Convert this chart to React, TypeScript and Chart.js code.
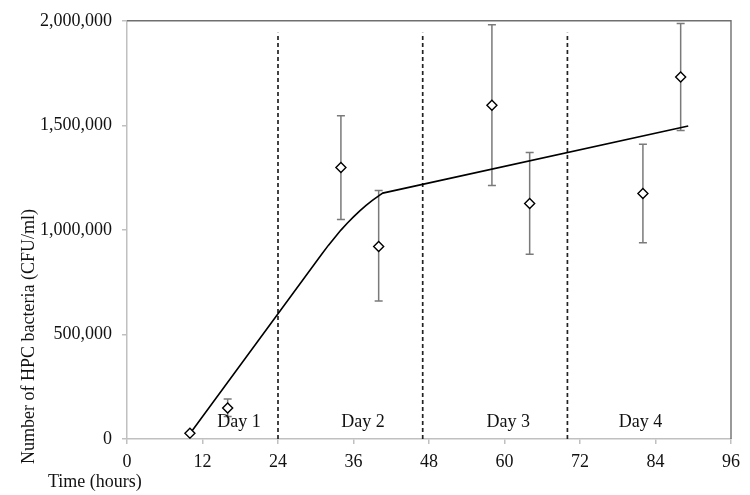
import React, { useEffect, useRef } from 'react';
import { Chart, registerables } from 'chart.js';

Chart.register(...registerables);

// Sample points (hours) with mean HPC counts and error-bar limits
const sampleHours = [10, 16, 34, 40, 58, 64, 82, 88];
const hpcMean = [28000, 148000, 1298000, 921000, 1596000, 1126000, 1174000, 1731000];
const hpcLow = [28000, 108000, 1050000, 660000, 1212000, 883000, 939000, 1475000];
const hpcHigh = [28000, 191000, 1546000, 1188000, 1981000, 1370000, 1410000, 1987000];

// Fitted growth curve
const fitHours = [10, 31, 32, 33, 34, 35, 36, 37, 38, 39, 40, 40.65, 89.2];
const fitValues = [25000, 886000, 926000, 963000, 999000, 1032000, 1062000, 1091000, 1117000, 1141000, 1163000, 1176000, 1497000];

// Day boundaries and labels
const dayBoundaryHours = [24, 47, 70];
const dayBoundaryTop = 1943000;
const dayLabels = ['Day 1', 'Day 2', 'Day 3', 'Day 4'];
const dayLabelHours = [17.8, 37.5, 60.6, 81.6];
const dayLabelValue = 57000;

const xTickValues = [0, 12, 24, 36, 48, 60, 72, 84, 96];
const yTickValues = [0, 500000, 1000000, 1500000, 2000000];

const xTitle = 'Time (hours)';
const yTitle = 'Number of HPC bacteria (CFU/ml)';

const FONT = '"Liberation Serif", "Times New Roman", serif';

const extrasPlugin = {
  id: 'extras',
  beforeDatasetsDraw(chart: any) {
    const { ctx, scales } = chart;
    const xs = scales.x;
    const ys = scales.y;
    ctx.save();
    ctx.strokeStyle = '#7a7a7a';
    ctx.lineWidth = 1.5;
    for (let i = 0; i < sampleHours.length; i++) {
      const px = xs.getPixelForValue(sampleHours[i]);
      const pLo = ys.getPixelForValue(hpcLow[i]);
      const pHi = ys.getPixelForValue(hpcHigh[i]);
      if (Math.abs(pLo - pHi) < 1) continue;
      ctx.beginPath();
      ctx.moveTo(px, pLo);
      ctx.lineTo(px, pHi);
      ctx.moveTo(px - 4, pLo);
      ctx.lineTo(px + 4, pLo);
      ctx.moveTo(px - 4, pHi);
      ctx.lineTo(px + 4, pHi);
      ctx.stroke();
    }
    ctx.restore();
  },
  afterDatasetsDraw(chart: any) {
    const { ctx, scales, chartArea } = chart;
    const xs = scales.x;
    const ys = scales.y;
    ctx.save();
    // frame top and right
    ctx.strokeStyle = '#6f6f6f';
    ctx.lineWidth = 1.4;
    ctx.beginPath();
    ctx.moveTo(chartArea.left, chartArea.top);
    ctx.lineTo(chartArea.right, chartArea.top);
    ctx.lineTo(chartArea.right, chartArea.bottom);
    ctx.stroke();
    // day labels
    ctx.fillStyle = '#111';
    ctx.font = `18px ${FONT}`;
    ctx.textAlign = 'center';
    ctx.textBaseline = 'alphabetic';
    for (let i = 0; i < dayLabels.length; i++) {
      ctx.fillText(dayLabels[i], xs.getPixelForValue(dayLabelHours[i]), ys.getPixelForValue(dayLabelValue));
    }
    // axis titles
    ctx.textAlign = 'left';
    ctx.fillText(xTitle, 48, 487);
    ctx.translate(34, 336.5);
    ctx.rotate(-Math.PI / 2);
    ctx.textAlign = 'center';
    ctx.fillText(yTitle, 0, 0);
    ctx.restore();
  },
};

export default function App() {
  const canvasRef = useRef<HTMLCanvasElement | null>(null);

  useEffect(() => {
    if (!canvasRef.current) return;
    const points = sampleHours.map((h, i) => ({ x: h, y: hpcMean[i] }));
    const fit = fitHours.map((h, i) => ({ x: h, y: fitValues[i] }));
    const boundaries = dayBoundaryHours.map((h) => ({
      type: 'line' as const,
      data: [
        { x: h, y: 0 },
        { x: h, y: dayBoundaryTop },
      ],
      borderColor: '#222',
      borderWidth: 1.7,
      borderDash: [4, 3],
      pointRadius: 0,
      fill: false,
    }));

    const chart = new Chart(canvasRef.current, {
      type: 'scatter',
      data: {
        datasets: [
          {
            type: 'scatter',
            data: points,
            pointStyle: 'rectRot',
            pointRadius: 5,
            pointBorderWidth: 1.4,
            borderColor: '#000',
            backgroundColor: '#fff',
            pointBackgroundColor: '#fff',
            pointBorderColor: '#000',
          } as any,
          {
            type: 'line',
            data: fit,
            borderColor: '#000',
            borderWidth: 1.6,
            pointRadius: 0,
            tension: 0,
            fill: false,
          } as any,
          ...(boundaries as any[]),
        ],
      },
      options: {
        responsive: false,
        animation: false,
        layout: { padding: { left: 0, right: 19, top: 20, bottom: 0 } },
        plugins: { legend: { display: false }, tooltip: { enabled: false } },
        scales: {
          x: {
            type: 'linear',
            min: 0,
            max: 96,
            afterFit(scale: any) {
              scale.height = 56;
            },
            afterBuildTicks(scale: any) {
              scale.ticks = xTickValues.map((v) => ({ value: v }));
            },
            ticks: {
              color: '#111',
              font: { family: FONT, size: 18 },
              padding: 7,
              maxRotation: 0,
              autoSkip: false,
            },
            grid: { drawOnChartArea: false, drawTicks: true, tickLength: 5, color: '#c0c0c0', lineWidth: 1.5 },
            border: { color: '#c0c0c0', width: 1.5 },
          },
          y: {
            type: 'linear',
            min: 0,
            max: 2000000,
            afterFit(scale: any) {
              scale.width = 127;
            },
            afterBuildTicks(scale: any) {
              scale.ticks = yTickValues.map((v) => ({ value: v }));
            },
            ticks: {
              color: '#111',
              font: { family: FONT, size: 18 },
              padding: 10,
              autoSkip: false,
              callback: (v: any) => Number(v).toLocaleString('en-US'),
            },
            grid: { drawOnChartArea: false, drawTicks: true, tickLength: 5, color: '#c0c0c0', lineWidth: 1.5 },
            border: { color: '#c0c0c0', width: 1.5 },
          },
        },
      },
      plugins: [extrasPlugin],
    } as any);
    return () => chart.destroy();
  }, []);

  return (
    <div style={{ position: 'absolute', left: 0, top: 0, width: 750, height: 495, background: '#fff' }}>
      <canvas ref={canvasRef} width={750} height={495} style={{ width: 750, height: 495 }} />
    </div>
  );
}
